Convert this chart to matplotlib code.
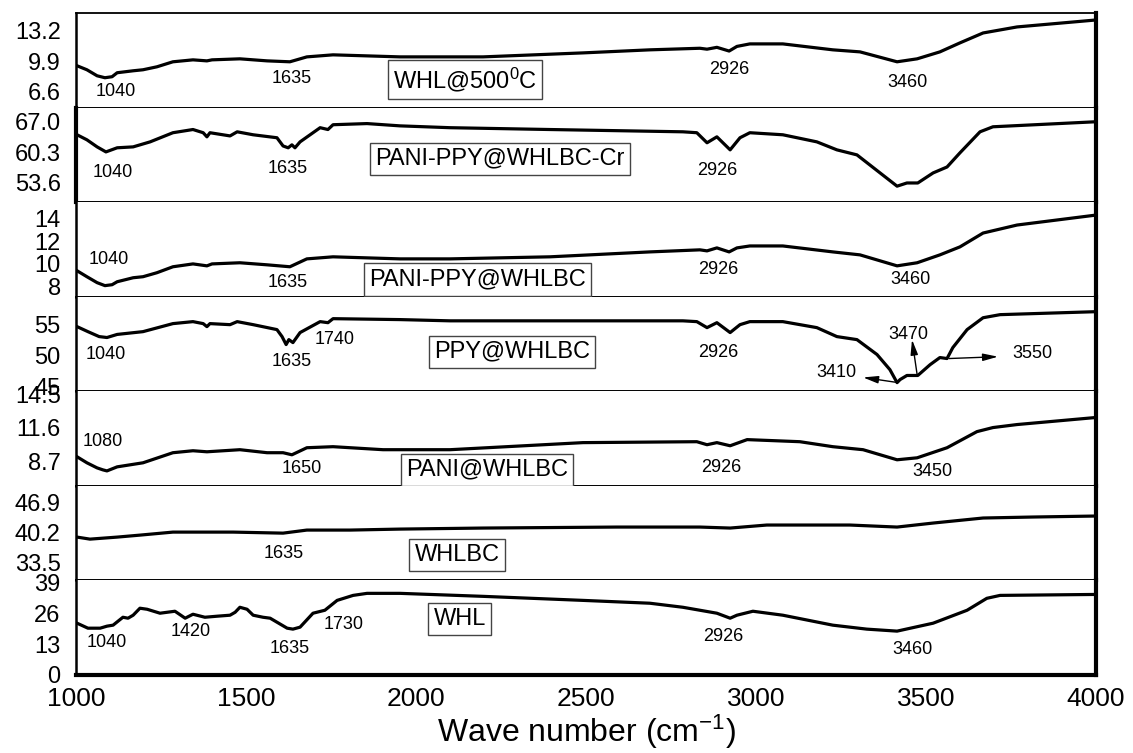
import numpy as np
import matplotlib.pyplot as plt

plt.rcParams['font.family'] = ['Liberation Sans', 'DejaVu Sans']
plt.rcParams['mathtext.fontset'] = 'custom'
plt.rcParams['mathtext.rm'] = 'Liberation Sans'
plt.rcParams['mathtext.it'] = 'Liberation Sans:italic'

# FTIR spectra, top panel first
wn_500 = [1003, 1032, 1062, 1085, 1106, 1121, 1168, 1197, 1238, 1285, 1344, 1385, 1400, 1482, 1562, 1629, 1679,
          1756, 1953, 2197, 2491, 2688, 2835, 2856, 2885, 2921, 2944, 2982, 3079, 3226, 3306, 3415, 3474, 3541,
          3600, 3668, 3768, 4000]
t_500 = [9.41, 8.98, 8.33, 8.12, 8.23, 8.66, 8.87, 8.98, 9.3, 9.84, 10.05, 9.94, 10.05, 10.16, 9.94, 9.84, 10.37,
         10.59, 10.37, 10.37, 10.8, 11.13, 11.3, 11.2, 11.4, 11.0, 11.5, 11.77, 11.77, 11.13, 10.91, 9.84, 10.16,
         10.91, 11.88, 12.95, 13.6, 14.35]

wn_cr = [1003, 1032, 1062, 1088, 1121, 1168, 1218, 1285, 1344, 1374, 1385, 1394, 1453, 1474, 1521, 1591, 1609,
         1624, 1635, 1644, 1659, 1718, 1741, 1756, 1856, 1953, 2100, 2394, 2785, 2826, 2856, 2885, 2924, 2953,
         2982, 3079, 3179, 3238, 3297, 3365, 3415, 3444, 3476, 3521, 3562, 3600, 3659, 3697, 4000]
t_cr = [64.15, 63.05, 61.5, 60.4, 61.3, 61.5, 62.6, 64.6, 65.3, 64.6, 63.7, 64.6, 63.9, 64.8, 64.15, 63.5, 61.7,
        61.3, 61.95, 61.3, 62.6, 65.7, 65.3, 66.35, 66.6, 66.1, 65.7, 65.3, 64.8, 64.6, 62.4, 63.7, 60.85, 63.5,
        64.6, 64.15, 62.6, 60.85, 59.75, 55.8, 52.9, 53.6, 53.6, 55.8, 57.1, 60.2, 64.8, 65.9, 67.0]

wn_pp = [1003, 1032, 1062, 1085, 1106, 1121, 1168, 1197, 1238, 1285, 1344, 1385, 1400, 1482, 1562, 1629, 1679,
         1756, 1953, 2100, 2394, 2688, 2835, 2856, 2885, 2921, 2944, 2982, 3079, 3226, 3306, 3415, 3474, 3541,
         3600, 3668, 3768, 4000]
t_pp = [9.4, 8.88, 8.36, 8.1, 8.18, 8.44, 8.79, 8.88, 9.23, 9.75, 10.0, 9.83, 10.0, 10.1, 9.92, 9.75, 10.44,
        10.62, 10.44, 10.44, 10.62, 11.05, 11.23, 11.14, 11.4, 11.05, 11.4, 11.57, 11.57, 11.05, 10.79, 9.83,
        10.1, 10.79, 11.49, 12.7, 13.4, 14.27]

wn_ppy = [1003, 1035, 1068, 1091, 1121, 1197, 1285, 1344, 1374, 1385, 1394, 1453, 1474, 1521, 1591, 1606, 1618,
          1626, 1638, 1659, 1718, 1741, 1756, 1953, 2100, 2394, 2785, 2826, 2856, 2885, 2924, 2953, 2982, 3079,
          3179, 3238, 3297, 3356, 3394, 3415, 3424, 3444, 3476, 3512, 3541, 3562, 3579, 3621, 3668, 3718, 4000]
t_ppy = [54.66, 53.85, 53.05, 52.9, 53.4, 53.85, 55.15, 55.47, 55.15, 54.66, 55.15, 54.98, 55.47, 54.98, 54.18,
         53.05, 51.76, 52.56, 52.08, 53.7, 55.47, 55.3, 55.95, 55.8, 55.6, 55.6, 55.6, 55.47, 54.5, 55.3, 53.7,
         54.98, 55.47, 55.47, 54.5, 53.05, 52.56, 50.15, 47.7, 45.6, 46.1, 46.76, 46.76, 48.5, 49.66, 49.5, 51.27,
         54.18, 56.1, 56.6, 57.08]

wn_pani = [1003, 1032, 1062, 1079, 1091, 1121, 1197, 1285, 1344, 1385, 1482, 1562, 1609, 1635, 1679, 1756, 1903,
           2100, 2491, 2826, 2856, 2885, 2924, 2974, 3129, 3226, 3315, 3415, 3474, 3562, 3650, 3697, 3768, 4000]
t_pani = [9.11, 8.59, 8.15, 7.98, 7.89, 8.24, 8.59, 9.46, 9.63, 9.54, 9.72, 9.46, 9.46, 9.28, 9.89, 9.98, 9.72,
          9.72, 10.33, 10.41, 10.15, 10.33, 10.06, 10.59, 10.41, 9.98, 9.72, 8.85, 9.02, 9.89, 11.28, 11.63, 11.89,
          12.5]

wn_bc = [1003, 1041, 1121, 1188, 1285, 1462, 1609, 1679, 1806, 1953, 2197, 2591, 2835, 2924, 3032, 3276, 3415,
         3521, 3668, 3815, 4000]
t_bc = [39.12, 38.67, 39.12, 39.56, 40.23, 40.23, 40.0, 40.68, 40.68, 40.9, 41.13, 41.35, 41.35, 41.13, 41.8,
        41.8, 41.35, 42.24, 43.36, 43.58, 43.8]

wn_whl = [1003, 1035, 1071, 1091, 1109, 1138, 1153, 1168, 1188, 1209, 1247, 1291, 1321, 1344, 1379, 1415, 1453,
          1468, 1482, 1503, 1521, 1550, 1571, 1621, 1638, 1659, 1697, 1732, 1768, 1815, 1856, 1953, 2197, 2491,
          2688, 2785, 2835, 2885, 2924, 2944, 2991, 3079, 3226, 3326, 3415, 3521, 3621, 3679, 3718, 4000]
t_whl = [21.8, 19.7, 19.7, 20.55, 20.97, 24.3, 23.9, 25.16, 28.1, 27.67, 26.0, 26.83, 23.9, 25.57, 24.3, 24.74,
         25.16, 26.4, 28.5, 27.67, 25.16, 24.3, 23.9, 19.7, 19.3, 20.13, 26.0, 27.25, 31.4, 33.5, 34.36, 34.36,
         33.1, 31.4, 30.2, 28.5, 27.25, 26.0, 23.9, 25.16, 26.83, 25.16, 20.97, 19.3, 18.46, 21.8, 27.25, 32.27,
         33.5, 33.9]

spectra = [(wn_500, t_500), (wn_cr, t_cr), (wn_pp, t_pp), (wn_ppy, t_ppy),
           (wn_pani, t_pani), (wn_bc, t_bc), (wn_whl, t_whl)]

names = ['WHL@500$^0$C', 'PANI-PPY@WHLBC-Cr', 'PANI-PPY@WHLBC', 'PPY@WHLBC', 'PANI@WHLBC', 'WHLBC', 'WHL']
name_pos = [(2144, 7.9), (2247, 58.9), (2180, 8.62), (2282, 50.6), (2209, 7.98), (2121, 35.1), (2129, 23.5)]

ylims = [(4.9, 15.1), (49.4, 70.1), (7.13, 15.4), (44.2, 59.5), (6.6, 14.76), (29.5, 50.5), (0, 39.8)]
yticks = [[6.6, 9.9, 13.2], [53.6, 60.3, 67.0], [8, 10, 12, 14], [45, 50, 55],
          [8.7, 11.6, 14.5], [33.5, 40.2, 46.9], [0, 13, 26, 39]]
ytick_labels = [['6.6', '9.9', '13.2'], ['53.6', '60.3', '67.0'], ['8', '10', '12', '14'], ['45', '50', '55'],
                ['8.7', '11.6', '14.5'], ['33.5', '40.2', '46.9'], ['0', '13', '26', '39']]

# peak labels: (panel, text, wavenumber pos, y pos)
peaks = [
    (0, '1040', 1118, 6.61), (0, '1635', 1635, 8.01), (0, '2926', 2921, 8.98), (0, '3460', 3447, 7.58),
    (1, '1040', 1109, 55.8), (1, '1635', 1624, 56.7), (1, '2926', 2885, 56.4),
    (2, '1040', 1097, 10.36), (2, '1635', 1624, 8.36), (2, '2926', 2888, 9.49), (2, '3460', 3453, 8.62),
    (3, '1040', 1088, 50.15), (3, '1635', 1635, 49.0), (3, '1740', 1762, 52.6), (3, '2926', 2888, 50.5),
    (3, '3470', 3447, 53.4), (3, '3550', 3812, 50.3), (3, '3410', 3238, 47.2),
    (4, '1080', 1079, 10.41), (4, '1650', 1665, 8.06), (4, '2926', 2897, 8.15), (4, '3450', 3518, 7.8),
    (5, '1635', 1612, 35.5),
    (6, '1040', 1091, 13.86), (6, '1420', 1338, 18.5), (6, '1635', 1629, 11.35), (6, '1730', 1788, 21.4),
    (6, '2926', 2903, 16.4), (6, '3460', 3459, 10.9),
]

# arrows in the PPY@WHLBC panel: (tail x, tail y, head x, head y)
ppy_arrows = [(3415, 45.63, 3315, 46.44), (3474, 46.9, 3459, 52.56), (3568, 49.5, 3712, 49.8)]

fig, axes = plt.subplots(7, 1, sharex=True, figsize=(11.33, 7.53), dpi=100)
fig.subplots_adjust(left=0.0671, right=0.9673, top=0.9827, bottom=0.1036, hspace=0)

for i, ax in enumerate(axes):
    x, y = spectra[i]
    ax.plot(x, y, color='black', lw=2.3, solid_joinstyle='round')
    ax.set_ylim(*ylims[i])
    ax.set_yticks(yticks[i])
    ax.set_yticklabels(ytick_labels[i])
    ax.tick_params(axis='y', length=0, pad=11, labelsize=17)
    ax.tick_params(axis='x', length=0, pad=9, labelsize=19)
    ax.text(name_pos[i][0], name_pos[i][1], names[i], fontsize=17, ha='center', va='center',
            bbox=dict(boxstyle='square,pad=0.22', fc='white', ec='#444444', lw=1.0))
    ax.spines['left'].set_linewidth(1.8)
    ax.spines['right'].set_linewidth(3.0)
    ax.spines['bottom'].set_linewidth(1.4)
    ax.spines['top'].set_visible(False)

axes[0].spines['top'].set_visible(True)
axes[0].spines['top'].set_linewidth(1.3)
axes[1].spines['left'].set_linewidth(3.0)
axes[-1].spines['bottom'].set_linewidth(3.0)

for panel, txt, px, py in peaks:
    axes[panel].text(px, py, txt, fontsize=13, ha='center', va='center')

for tx, ty, hx, hy in ppy_arrows:
    axes[3].annotate('', xy=(hx, hy), xytext=(tx, ty),
                     arrowprops=dict(arrowstyle='-|>,head_length=0.9,head_width=0.22',
                                     color='black', lw=1.0, shrinkA=0, shrinkB=0))

axes[-1].set_xlim(1000, 4000)
axes[-1].set_xticks([1000, 1500, 2000, 2500, 3000, 3500, 4000])
axes[-1].set_xlabel('Wave number (cm$^{\\mathregular{-1}}$)', fontsize=23, labelpad=1)

fig.savefig('out.png', dpi=100)
